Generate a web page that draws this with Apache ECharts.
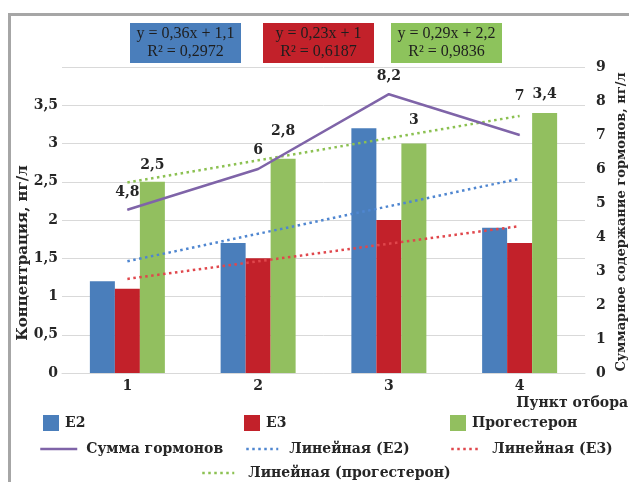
<!DOCTYPE html>
<html>
<head>
<meta charset="utf-8">
<script src="https://cdn.jsdelivr.net/npm/echarts@6/dist/echarts.min.js"></script>
<style>
  html, body { margin: 0; padding: 0; background: #fff; }
  #chart { width: 629px; height: 482px; }
</style>
</head>
<body>
<div id="chart"></div>
<script>
// point numbers and values
var categories = ['1', '2', '3', '4'];
var e2 = [1.2, 1.7, 3.2, 1.9];
var e3 = [1.1, 1.5, 2.0, 1.7];
var progesterone = [2.5, 2.8, 3.0, 3.4];
var hormoneSum = [4.8, 6, 8.2, 7];
// linear trends as shown by the equations in the boxes
var trendE2 = [1.46, 1.82, 2.18, 2.54];
var trendE3 = [1.23, 1.46, 1.69, 1.92];
var trendProg = [2.49, 2.78, 3.07, 3.36];
var equations = ['y = 0,36x + 1,1', 'y = 0,23x + 1', 'y = 0,29x + 2,2'];
var rSquared = ['R² = 0,2972', 'R² = 0,6187', 'R² = 0,9836'];

var FONT = '"DejaVu Serif", serif';
var TXT = '#262626';
var cBlue = '#4a7ebb', cRed = '#c2212a', cGreen = '#92bf5f', cPurple = '#7f64a8';

var progLabelDist = [8, 19, 15, 11];
var sumLabelDist = [9, 10, 9, 30];

function comma(v) { return String(v).replace('.', ','); }

var labelStyle = {
  show: true, position: 'top', color: TXT, fontFamily: FONT,
  fontWeight: 'bold', fontSize: 14, lineHeight: 16,
  formatter: function (p) { return comma(p.value); }
};

var boxColors = [cBlue, cRed, '#8dc35c'];
var boxX = [130, 263, 391];
var graphics = [{
  type: 'rect', shape: { x: 9.5, y: 14.5, width: 700, height: 600 },
  style: { fill: null, stroke: '#a6a6a6', lineWidth: 3 }, silent: true
}];
equations.forEach(function (eq, i) {
  graphics.push({
    type: 'rect', shape: { x: boxX[i], y: 23, width: 111, height: 40 },
    style: { fill: boxColors[i] }
  });
  graphics.push({
    type: 'text', x: boxX[i] + 55.5, y: 43,
    style: { text: eq + '\n' + rSquared[i], align: 'center', verticalAlign: 'middle',
      font: '16px "Liberation Serif", serif', lineHeight: 18, fill: '#1e1e1e' }
  });
});
graphics.push({
  type: 'text', x: 23, y: 253, rotation: Math.PI / 2,
  style: { text: 'Концентрация, нг/л', align: 'center', verticalAlign: 'middle',
    font: 'bold 15px "DejaVu Serif", serif', fill: TXT }
});
graphics.push({
  type: 'text', x: 622, y: 222, rotation: Math.PI / 2,
  style: { text: 'Суммарное содержание гормонов, нг/л', align: 'center', verticalAlign: 'middle',
    font: 'bold 13px "DejaVu Serif", serif', fill: TXT }
});
graphics.push({
  type: 'text', x: 628, y: 403,
  style: { text: 'Пункт отбора', align: 'right', verticalAlign: 'middle',
    font: 'bold 14px "DejaVu Serif", serif', fill: TXT }
});

function leg(name, left, top, w, pad, extra) {
  var o = {
    data: [name], left: left, top: top, padding: 0,
    itemWidth: w, itemHeight: 16,
    textStyle: { color: TXT, fontFamily: FONT, fontWeight: 'bold', fontSize: 14,
      lineHeight: 16, padding: [0, 0, 0, pad] }
  };
  for (var k in extra) o[k] = extra[k];
  return o;
}
var dotted = { type: [2.5, 3.5], width: 2.5 };
var noMark = { opacity: 0 };

var trendSeries = function (name, data, color) {
  return {
    name: name, type: 'line', data: data, yAxisIndex: 0, symbol: 'none',
    lineStyle: { color: color, width: 2.5, type: [2.5, 3.5] },
    itemStyle: { color: color }, z: 3
  };
};

var chart = echarts.init(document.getElementById('chart'));
chart.setOption({
  animation: false,
  grid: { left: 62, right: 44, top: 67, bottom: 109 },
  graphic: graphics,
  legend: [
    leg('E2', 43, 415, 16, 1, { icon: 'rect' }),
    leg('E3', 244, 415, 16, 1, { icon: 'rect' }),
    leg('Прогестерон', 450, 415, 16, 1, { icon: 'rect' }),
    leg('Сумма гормонов', 39, 441, 37, 4, { lineStyle: { width: 2.5 }, itemStyle: noMark }),
    leg('Линейная (E2)', 245, 441, 32, 6, { lineStyle: dotted, itemStyle: noMark }),
    leg('Линейная (E3)', 450, 441, 27, 9, { lineStyle: dotted, itemStyle: noMark }),
    leg('Линейная (прогестерон)', 201, 465, 32, 9, { lineStyle: dotted, itemStyle: noMark })
  ],
  xAxis: {
    type: 'category', data: categories,
    axisLine: { lineStyle: { color: '#d9d9d9' } }, axisTick: { show: false },
    axisLabel: { color: TXT, fontFamily: FONT, fontWeight: 'bold', fontSize: 14, margin: 6 }
  },
  yAxis: [{
    type: 'value', min: 0, max: 4, interval: 0.5,
    splitLine: { lineStyle: { color: '#d9d9d9' } },
    axisLine: { show: false }, axisTick: { show: false },
    axisLabel: { color: TXT, fontFamily: FONT, fontWeight: 'bold', fontSize: 14, margin: 4,
      formatter: function (v) { return v === 4 ? '' : comma(v); } }
  }, {
    type: 'value', min: 0, max: 9, interval: 1,
    splitLine: { show: false }, axisLine: { show: false }, axisTick: { show: false },
    axisLabel: { color: TXT, fontFamily: FONT, fontWeight: 'bold', fontSize: 14, margin: 11 }
  }],
  series: [
    { name: 'E2', type: 'bar', data: e2, barWidth: 25, barGap: '0%', itemStyle: { color: cBlue } },
    { name: 'E3', type: 'bar', data: e3, barWidth: 25, barGap: '0%', itemStyle: { color: cRed } },
    { name: 'Прогестерон', type: 'bar', data: progesterone.map(function (v, i) {
        return { value: v, label: { distance: progLabelDist[i] } };
      }), barWidth: 25, barGap: '0%', itemStyle: { color: cGreen }, label: labelStyle },
    { name: 'Сумма гормонов', type: 'line', yAxisIndex: 1,
      symbol: 'circle', symbolSize: 1, showSymbol: true,
      data: hormoneSum.map(function (v, i) {
        return { value: v, label: { distance: sumLabelDist[i] } };
      }),
      lineStyle: { color: cPurple, width: 2.5 }, itemStyle: { color: cPurple },
      label: labelStyle, z: 4 },
    trendSeries('Линейная (E2)', trendE2, '#4f86d0'),
    trendSeries('Линейная (E3)', trendE3, '#e0474c'),
    trendSeries('Линейная (прогестерон)', trendProg, '#8cc152')
  ]
});
</script>
</body>
</html>
